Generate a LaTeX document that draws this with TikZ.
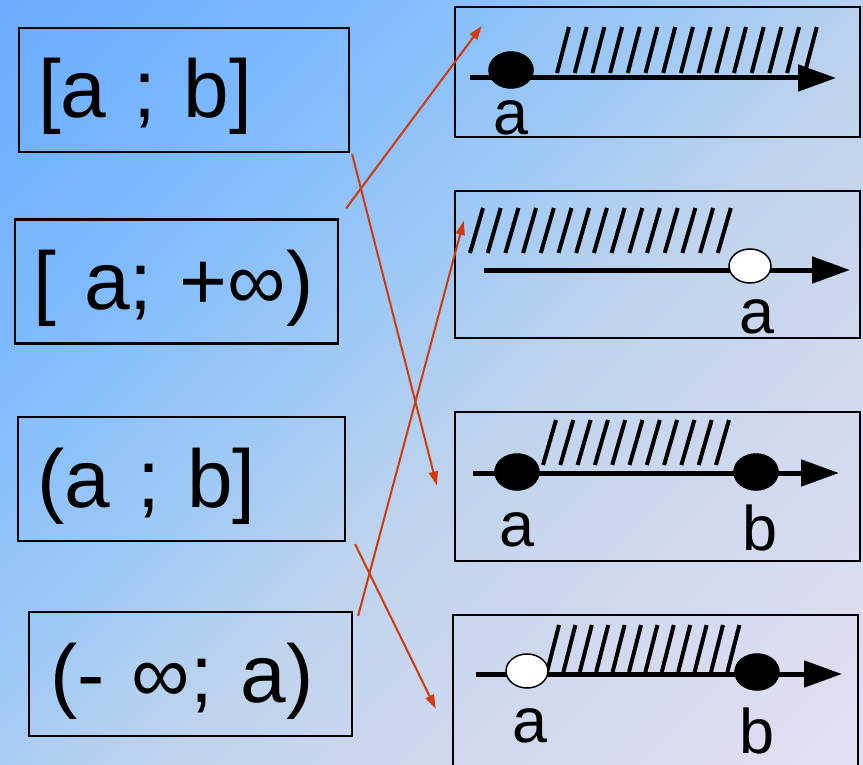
\documentclass[tikz,border=0pt]{standalone}
\usepackage{fontspec}
\setmainfont{Liberation Sans}
\usetikzlibrary{arrows.meta,positioning,shapes.geometric}
\definecolor{linkred}{RGB}{206,58,12}
\pgfdeclarehorizontalshading{bgdiag}{100bp}{rgb(0bp)=(0.37,0.61,0.98); rgb(30bp)=(0.49,0.73,1.0);
  rgb(45bp)=(0.63,0.79,0.96); rgb(55bp)=(0.75,0.83,0.93); rgb(75bp)=(0.85,0.86,0.94); rgb(100bp)=(0.93,0.90,0.965)}

\begin{document}
\begin{tikzpicture}[x=1pt,y=-1pt,
  lbox/.style={draw,line width=2.2pt,minimum height=124pt,inner xsep=19pt,align=left,
    text height=68pt,text depth=12pt,font=\fontsize{82}{86}\selectfont},
  rbox/.style={draw,line width=2.4pt,minimum width=405pt},
  axis/.style={line width=5pt,-{Triangle[length=38pt,width=26pt]}},
  hatch/.style={line width=4pt},
  fdot/.style={ellipse,draw,fill=black,minimum width=45pt,minimum height=37pt,inner sep=0pt},
  odot/.style={ellipse,draw,line width=1.5pt,fill=white,minimum width=42pt,minimum height=34pt,inner sep=0pt},
  lbl/.style={anchor=base,inner sep=0pt,font=\fontsize{63}{66}\selectfont},
  link/.style={draw=linkred,line width=2pt,-{Triangle[length=14pt,width=9pt]}}]
\clip (0,0) rectangle (863,765);
\shade[shading=bgdiag,shading angle=-45] (0,0) rectangle (863,765);
% left column
\node[lbox,text width=292pt] (lb1) at (184,90) {[a ; b]};
\node[lbox,text width=285pt] (lb2) at (176.5,281.5) {[ a; +∞)};
\node[lbox,text width=289pt] (lb3) at (181.5,479) {(a ; b]};
\node[lbox,inner xsep=21pt,text width=281pt] (lb4) at (190.5,674) {(- ∞; a)};
% right column
\node[rbox,minimum height=130pt] (rb1) at (657.5,72) {};
\node[rbox,minimum height=147pt] (rb2) at (657.5,264.5) {};
\node[rbox,minimum height=149pt] (rb3) at (657.5,486.5) {};
\node[rbox,minimum height=170pt] (rb4) at (655.5,700) {};
% [a; +oo)
\draw[axis] (470,78) -- (836,78);
\foreach \i in {0,...,14} \draw[hatch] (557+\i*17.7,73) -- ++(12,-46);
\node[fdot] (d1) at (511,70) {};
\node[lbl] (a1) at (511,135) {a};
% (-oo; a)
\draw[axis] (484,270) -- (850,270);
\foreach \i in {0,...,14} \draw[hatch] (470+\i*17.7,253) -- ++(13,-45);
\node[odot] (d2) at (750,266) {};
\node[lbl] (a2) at (757,333) {a};
% [a; b]
\draw[axis] (473,473) -- (839,473);
\foreach \i in {0,...,10} \draw[hatch] (543+\i*17.3,465) -- ++(13,-45);
\node[fdot] (d3) at (517,472) {};
\node[fdot] (d4) at (756,472) {};
\node[lbl] (a3) at (517,546) {a};
\node[lbl] (b3) at (760,550) {b};
% (a; b]
\draw[axis] (476,674) -- (842,674);
\foreach \i in {0,...,11} \draw[hatch] (547+\i*16.4,672) -- ++(12,-47);
\node[odot] (d5) at (527,671) {};
\node[fdot] (d6) at (757,672) {};
\node[lbl] (a4) at (530,742) {a};
\node[lbl] (b4) at (757,753) {b};
% matching arrows
\draw[link] ([shift={(7,-10)}]lb2.north east) -- ([shift={(28,20)}]rb1.north west);
\draw[link] ([shift={(2,1)}]lb1.south east) -- ([shift={(-17,-1)}]rb3.west);
\draw[link] ([shift={(5,5)}]lb4.north east) -- ([shift={(10,31)}]rb2.north west);
\draw[link] ([shift={(9,2)}]lb3.south east) -- ([shift={(-16,95)}]rb4.north west);
\end{tikzpicture}
\end{document}
